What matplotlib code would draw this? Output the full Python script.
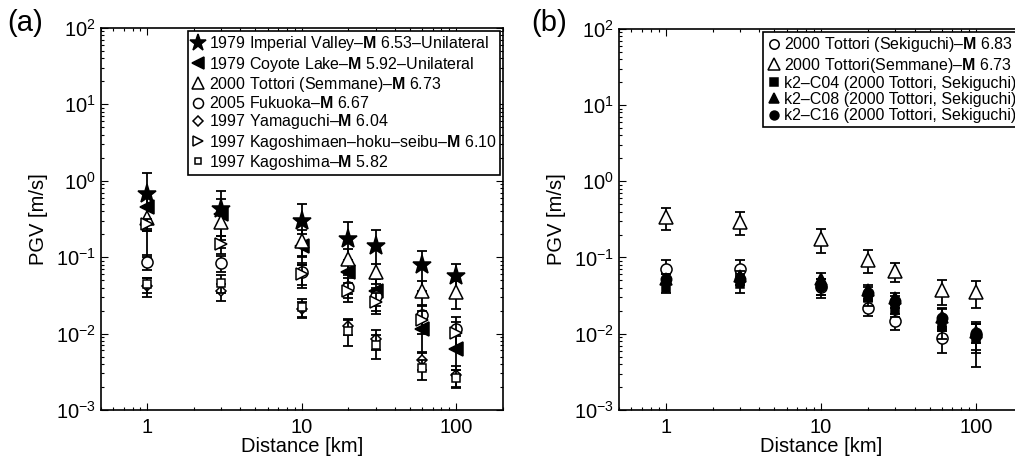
import matplotlib
matplotlib.use("Agg")
import matplotlib.pyplot as plt
import numpy as np
from matplotlib.ticker import LogLocator, NullFormatter, FixedLocator, FixedFormatter

plt.rcParams['font.family'] = ['Liberation Sans', 'DejaVu Sans']
plt.rcParams['mathtext.fontset'] = 'custom'
plt.rcParams['mathtext.rm'] = 'Liberation Sans'
plt.rcParams['mathtext.bf'] = 'Liberation Sans:bold'
plt.rcParams['mathtext.it'] = 'Liberation Sans:italic'

dist = [1, 3, 10, 20, 30, 60, 100]

# panel (a): PGV and 1-sigma spread for each event
imperial = [0.68, 0.43, 0.30, 0.174, 0.139, 0.079, 0.056]
imperial_err = [0.58, 0.30, 0.20, 0.115, 0.085, 0.043, 0.026]
coyote = [0.45, 0.37, 0.14, 0.063, 0.036, 0.0115, 0.0063]
coyote_err = [0.22, 0.20, 0.06, 0.03, 0.016, 0.006, 0.003]
semmane = [0.33, 0.29, 0.165, 0.095, 0.063, 0.036, 0.035]
semmane_err = [0.11, 0.10, 0.06, 0.032, 0.018, 0.013, 0.014]
fukuoka = [0.0875, 0.084, 0.0635, 0.041, 0.031, 0.0177, 0.0115]
fukuoka_err = [0.02, 0.02, 0.02, 0.012, 0.008, 0.006, 0.005]
yamaguchi = [0.042, 0.036, 0.021, 0.0127, 0.0085, 0.0045, 0.0029]
yamaguchi_err = [0.012, 0.009, 0.005, 0.003, 0.0025, 0.0012, 0.0009]
kagohoku = [0.27, 0.149, 0.06, 0.036, 0.026, 0.015, 0.0103]
kagohoku_err = [0.05, 0.04, 0.02, 0.01, 0.008, 0.005, 0.004]
kagoshima = [0.044, 0.0455, 0.0225, 0.0109, 0.0071, 0.0035, 0.00265]
kagoshima_err = [0.01, 0.012, 0.006, 0.004, 0.0025, 0.001, 0.0007]

# panel (b): Tottori source models
sekiguchi = [0.070, 0.070, 0.041, 0.0219, 0.0147, 0.0089, 0.0095]
sekiguchi_err = [0.022, 0.022, 0.012, 0.005, 0.0035, 0.0034, 0.004]
semmane_b = [0.337, 0.296, 0.173, 0.094, 0.066, 0.0369, 0.0355]
semmane_b_err = [0.11, 0.10, 0.06, 0.032, 0.018, 0.013, 0.014]
c04 = [0.040, 0.0455, 0.042, 0.029, 0.0204, 0.0124, 0.0086]
c04_err = [0.006, 0.011, 0.01, 0.006, 0.004, 0.004, 0.0049]
c08 = [0.053, 0.058, 0.053, 0.037, 0.029, 0.0167, 0.0106]
c08_err = [0.008, 0.009, 0.009, 0.006, 0.005, 0.005, 0.003]
c16 = [0.053, 0.052, 0.0425, 0.0347, 0.0267, 0.0159, 0.0101]
c16_err = [0.008, 0.008, 0.01, 0.006, 0.005, 0.005, 0.004]

M = r'$\mathbf{M}$'
series_a = [
    (imperial, imperial_err, '*', 'k', 14, '1979 Imperial Valley–' + M + ' 6.53–Unilateral'),
    (coyote, coyote_err, '<', 'k', 9.5, '1979 Coyote Lake–' + M + ' 5.92–Unilateral'),
    (semmane, semmane_err, '^', 'w', 10, '2000 Tottori (Semmane)–' + M + ' 6.73'),
    (fukuoka, fukuoka_err, 'o', 'w', 8, '2005 Fukuoka–' + M + ' 6.67'),
    (yamaguchi, yamaguchi_err, 'D', 'w', 5.5, '1997 Yamaguchi–' + M + ' 6.04'),
    (kagohoku, kagohoku_err, '>', 'w', 8, '1997 Kagoshimaen–hoku–seibu–' + M + ' 6.10'),
    (kagoshima, kagoshima_err, 's', 'w', 5.5, '1997 Kagoshima–' + M + ' 5.82'),
]
series_b = [
    (sekiguchi, sekiguchi_err, 'o', 'w', 8, '2000 Tottori (Sekiguchi)–' + M + ' 6.83'),
    (semmane_b, semmane_b_err, '^', 'w', 10.5, '2000 Tottori(Semmane)–' + M + ' 6.73'),
    (c04, c04_err, 's', 'k', 6, 'k2–C04 (2000 Tottori, Sekiguchi)'),
    (c08, c08_err, '^', 'k', 8.5, 'k2–C08 (2000 Tottori, Sekiguchi)'),
    (c16, c16_err, 'o', 'k', 7.5, 'k2–C16 (2000 Tottori, Sekiguchi)'),
]

fig = plt.figure(figsize=(10.15, 4.58), dpi=100)
ax_a = fig.add_axes([0.0995, 0.105, 0.396, 0.834])
ax_b = fig.add_axes([0.6099, 0.105, 0.398, 0.832])


def draw_panel(ax, series, tag, tag_x, mscale):
    for y, e, mk, fc, ms, lab in series:
        ax.errorbar(dist, y, yerr=e, fmt='none', ecolor='k', elinewidth=1.3,
                    capsize=3.5, capthick=1.3)
        ax.plot(dist, y, ls='none', marker=mk, mfc=fc, mec='k', mew=1.1,
                ms=ms, label=lab)
    ax.set_xscale('log')
    ax.set_yscale('log')
    ax.set_xlim(0.5, 200)
    ax.set_ylim(1e-3, 1e2)
    ax.yaxis.set_major_locator(LogLocator(base=10, numticks=10))
    ax.yaxis.set_minor_locator(LogLocator(base=10, subs=np.arange(2, 10), numticks=10))
    ax.yaxis.set_minor_formatter(NullFormatter())
    ax.xaxis.set_major_locator(FixedLocator([1, 10, 100]))
    ax.xaxis.set_major_formatter(FixedFormatter(['1', '10', '100']))
    ax.xaxis.set_minor_locator(LogLocator(base=10, subs=np.arange(2, 10), numticks=10))
    ax.xaxis.set_minor_formatter(NullFormatter())
    ax.tick_params(which='both', direction='in', top=True, right=True,
                   labelsize=14.5, width=0.8)
    ax.tick_params(which='major', length=5)
    ax.tick_params(which='minor', length=2.5)
    ax.tick_params(axis='x', pad=6)
    for sp in ax.spines.values():
        sp.set_linewidth(1.2)
    ax.set_xlabel('Distance [km]', fontsize=14.5, labelpad=0)
    ax.set_ylabel('PGV [m/s]', fontsize=14.5, labelpad=6)
    leg = ax.legend(loc='upper right', fontsize=11.5, frameon=True, fancybox=False,
                    edgecolor='k', framealpha=1, borderpad=0.2, labelspacing=0.08,
                    handlelength=0.9, handletextpad=0.2, borderaxespad=0.2,
                    markerscale=mscale)
    leg.get_frame().set_linewidth(1.2)
    fig.text(tag_x, 1 - 31 / 458, tag, fontsize=21, ha='left', va='baseline')


draw_panel(ax_a, series_a, '(a)', 7 / 1015, 0.9)
draw_panel(ax_b, series_b, '(b)', 531 / 1015, 0.85)

fig.savefig('out.png', dpi=100)
